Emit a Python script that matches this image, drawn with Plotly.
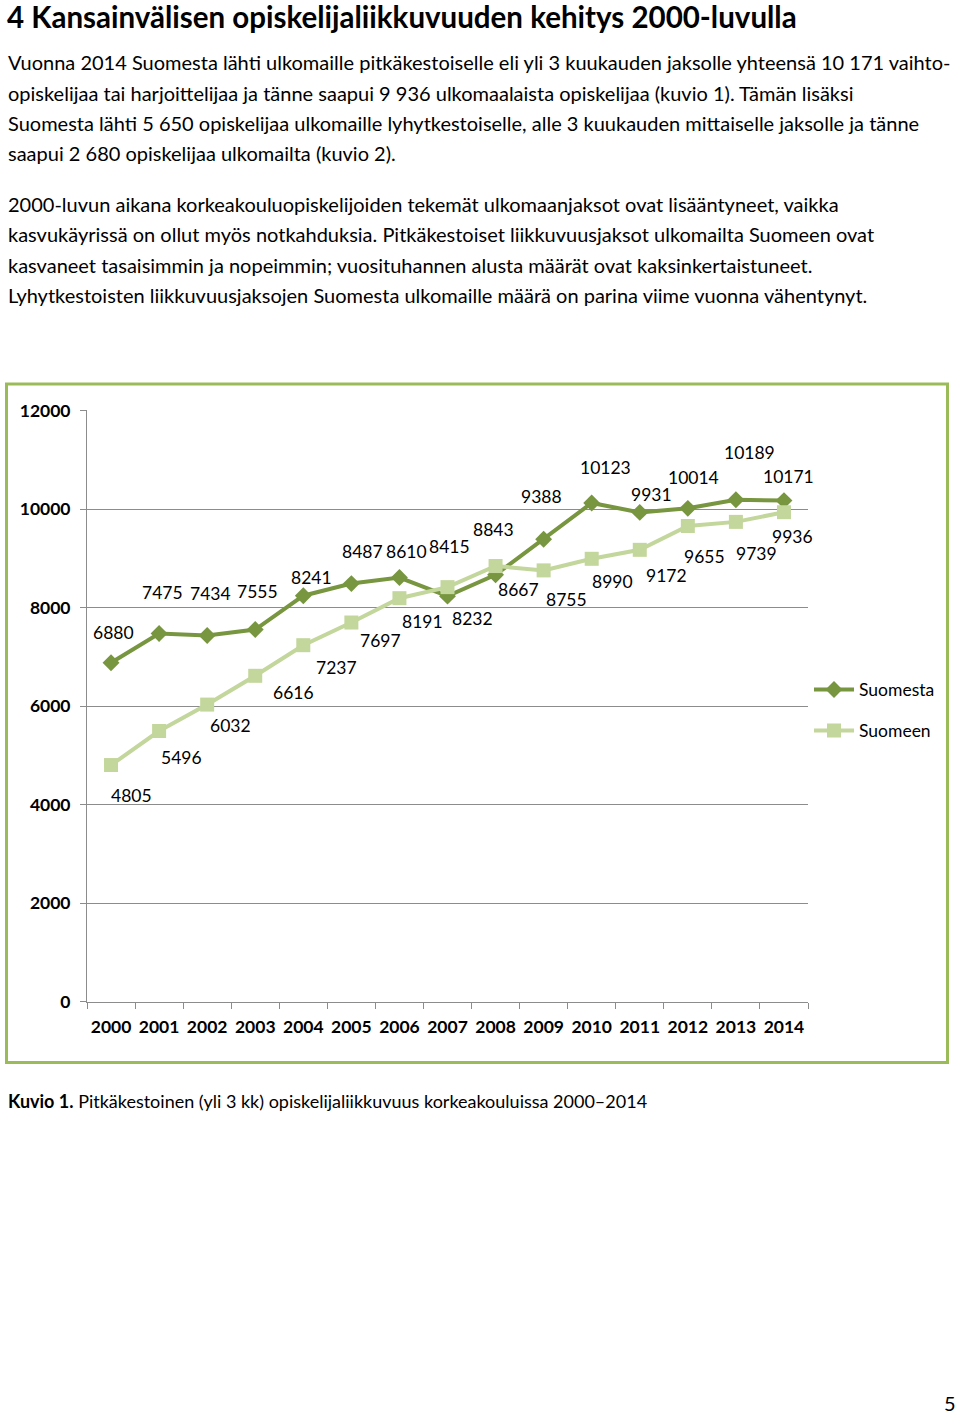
import plotly.graph_objects as go

# ---------------- data ----------------
years = ["2000", "2001", "2002", "2003", "2004", "2005", "2006", "2007",
         "2008", "2009", "2010", "2011", "2012", "2013", "2014"]
suomesta = [6880, 7475, 7434, 7555, 8241, 8487, 8610, 8232, 8667, 9388,
            10123, 9931, 10014, 10189, 10171]
suomeen = [4805, 5496, 6032, 6616, 7237, 7697, 8191, 8415, 8843, 8755,
           8990, 9172, 9655, 9739, 9936]
y_ticks = [0, 2000, 4000, 6000, 8000, 10000, 12000]

title_text = "4 Kansainvälisen opiskelijaliikkuvuuden kehitys 2000-luvulla"
para_lines = [
    "Vuonna 2014 Suomesta lähti ulkomaille pitkäkestoiselle eli yli 3 kuukauden jaksolle yhteensä 10 171 vaihto-",
    "opiskelijaa tai harjoittelijaa ja tänne saapui 9 936 ulkomaalaista opiskelijaa (kuvio 1). Tämän lisäksi",
    "Suomesta lähti 5 650 opiskelijaa ulkomaille lyhytkestoiselle, alle 3 kuukauden mittaiselle jaksolle ja tänne",
    "saapui 2 680 opiskelijaa ulkomailta (kuvio 2).",
    "2000-luvun aikana korkeakouluopiskelijoiden tekemät ulkomaanjaksot ovat lisääntyneet, vaikka",
    "kasvukäyrissä on ollut myös notkahduksia. Pitkäkestoiset liikkuvuusjaksot ulkomailta Suomeen ovat",
    "kasvaneet tasaisimmin ja nopeimmin; vuosituhannen alusta määrät ovat kaksinkertaistuneet.",
    "Lyhytkestoisten liikkuvuusjaksojen Suomesta ulkomaille määrä on parina viime vuonna vähentynyt.",
]
caption_bold = "Kuvio 1."
caption_rest = " Pitkäkestoinen (yli 3 kk) opiskelijaliikkuvuus korkeakouluissa 2000–2014"
page_number = "5"

# ---------------- styles / positions ----------------
W, H = 960, 1415          # page grid (reference pixels)
H_FIG = 1437              # rendered figure height
CAP_SCALE = 1415 / 1437   # vertical scale observed in the capture
CAP_OFF = 11              # vertical offset observed in the capture
FONT = "Lato"
C_DARK = "#77963F"
C_LIGHT = "#C3D69B"
C_BORDER = "#9BBB59"
C_GRID = "#8C8C8C"

para_y = [62, 93, 123, 153, 204, 234, 265, 295]
# data-label offsets in pixels (dx, dy downwards)
off_suomesta = [(2, -30), (3, -40), (3, -41), (2, -37), (8, -18), (11, -32),
                (7, -26), (25, 22), (23, 15), (-2, -42), (14, -35), (12, -18),
                (6, -30), (14, -46), (5, -24)]
off_suomeen = [(20, 30), (22, 26), (23, 21), (38, 16), (33, 22), (29, 18),
               (23, 23), (2, -40), (-2, -36), (23, 29), (21, 22), (27, 25),
               (17, 30), (21, 31), (9, 24)]


def px(x):
    return x / W


def py(y):
    yf = y / CAP_SCALE - CAP_OFF
    return 1 - yf / H_FIG


fig = go.Figure()
fig.add_trace(go.Scatter(
    x=years, y=suomesta, name="Suomesta", mode="lines+markers",
    line=dict(color=C_DARK, width=4),
    marker=dict(symbol="diamond", size=13, color=C_DARK),
    legend="legend", showlegend=True,
))
fig.add_trace(go.Scatter(
    x=years, y=suomeen, name="Suomeen", mode="lines+markers",
    line=dict(color=C_LIGHT, width=4),
    marker=dict(symbol="square", size=14, color=C_LIGHT),
    legend="legend2", showlegend=True,
))

annotations = []
for i, (v, (dx, dy)) in enumerate(zip(suomesta, off_suomesta)):
    annotations.append(dict(x=i, y=v, xref="x", yref="y", text=str(v),
                            showarrow=False, xshift=dx, yshift=-dy / CAP_SCALE,
                            font=dict(family=FONT, size=17.5, color="#000")))
for i, (v, (dx, dy)) in enumerate(zip(suomeen, off_suomeen)):
    annotations.append(dict(x=i, y=v, xref="x", yref="y", text=str(v),
                            showarrow=False, xshift=dx, yshift=-dy / CAP_SCALE,
                            font=dict(family=FONT, size=17.5, color="#000")))

annotations.append(dict(x=px(6), y=py(16), xref="paper", yref="paper",
                        xanchor="left", yanchor="middle", showarrow=False,
                        borderpad=0,
                        text="<b>" + title_text + "</b>",
                        font=dict(family=FONT, size=29.5, color="#000")))
for line, yy in zip(para_lines, para_y):
    annotations.append(dict(x=px(6), y=py(yy), xref="paper", yref="paper",
                            xanchor="left", yanchor="middle", showarrow=False,
                            text=line, font=dict(family=FONT, size=20, color="#000")))
annotations.append(dict(x=px(6), y=py(1100), xref="paper", yref="paper",
                        xanchor="left", yanchor="middle", showarrow=False,
                        text="<b>" + caption_bold + "</b>" + caption_rest,
                        font=dict(family=FONT, size=18, color="#000")))
annotations.append(dict(x=px(958), y=py(1402), xref="paper", yref="paper",
                        xanchor="right", yanchor="middle", showarrow=False,
                        text=page_number, font=dict(family=FONT, size=20, color="#000")))

fig.update_layout(
    width=W, height=H_FIG,
    margin=dict(l=0, r=0, t=0, b=0),
    paper_bgcolor="white", plot_bgcolor="white",
    font=dict(family=FONT, color="#000"),
    showlegend=True,
    annotations=annotations,
    shapes=[dict(type="rect", xref="paper", yref="paper",
                 x0=px(6.5), x1=px(947.5), y0=py(1061.5), y1=py(383.5),
                 line=dict(color=C_BORDER, width=3))],
    xaxis=dict(
        domain=[px(87), px(808)], type="category", range=[-0.5, 14.5],
        showline=True, linecolor=C_GRID, linewidth=1,
        ticks="outside", ticklen=6, tickcolor=C_GRID, tickson="boundaries",
        showgrid=False, ticklabelstandoff=9, tickangle=0,
        tickfont=dict(family=FONT, size=17.5, weight="bold", color="#000"),
        fixedrange=True,
    ),
    yaxis=dict(
        domain=[py(1001), py(410)], range=[0, 12000],
        tickvals=y_ticks, tickformat="d",
        showline=True, linecolor=C_GRID, linewidth=1,
        ticks="outside", ticklen=6, tickcolor=C_GRID,
        showgrid=True, gridcolor=C_GRID, gridwidth=1, zeroline=False,
        ticklabelstandoff=6,
        tickfont=dict(family=FONT, size=17.5, weight="bold", color="#000"),
        fixedrange=True,
    ),
    legend=dict(x=px(809), y=py(689), xanchor="left", yanchor="middle",
                bgcolor="rgba(0,0,0,0)", itemwidth=40,
                font=dict(family=FONT, size=17.5, color="#000")),
    legend2=dict(x=px(809), y=py(730), xanchor="left", yanchor="middle",
                 bgcolor="rgba(0,0,0,0)", itemwidth=40,
                 font=dict(family=FONT, size=17.5, color="#000")),
)

post = (
    "document.documentElement.style.margin='0';"
    "document.documentElement.style.padding='0';"
    "document.documentElement.style.overflow='hidden';"
    "document.body.style.margin='0';"
    "document.body.style.padding='0';"
    "document.body.style.overflow='hidden';"
    "var gd=document.getElementById('{plot_id}');"
    "gd.style.position='absolute';gd.style.top='0px';gd.style.left='0px';"
)

fig.write_html("out.html", config={"displayModeBar": False}, post_script=post)
